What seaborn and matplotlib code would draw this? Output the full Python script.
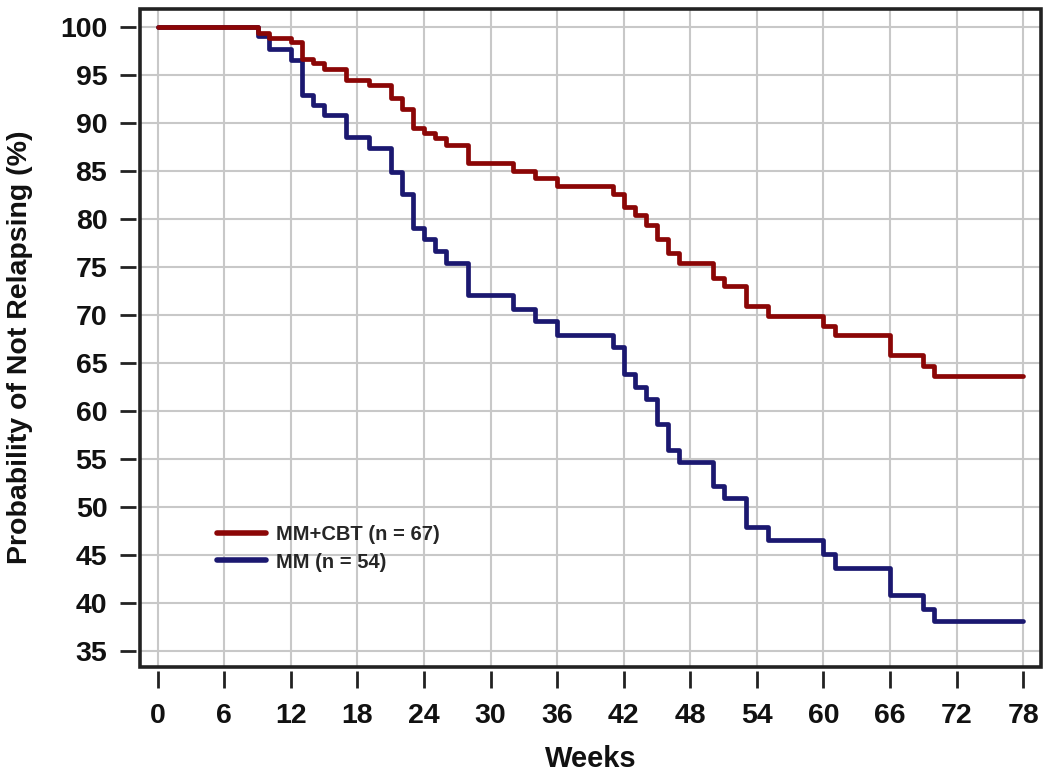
# Kaplan-Meier style relapse curves: MM+CBT vs MM

# imports
import pandas as pd
import matplotlib
matplotlib.use('Agg')
import matplotlib.pyplot as plt
from matplotlib.patches import Rectangle
from matplotlib.lines import Line2D
import seaborn as sns

# data (step times in weeks, survival in %)
weeks = [0, 9, 10, 12, 13, 14, 15, 17, 19, 21, 22, 23, 24, 25, 26, 28, 32, 34,
         36, 41, 42, 43, 44, 45, 46, 47, 50, 51, 53, 55, 60, 61, 66, 69, 70, 78]
surv_cbt = [100, 99.4, 98.8, 98.4, 96.6, 96.2, 95.6, 94.5, 93.9, 92.6, 91.4, 89.5,
            88.9, 88.4, 87.7, 85.8, 85.0, 84.2, 83.4, 82.6, 81.2, 80.4, 79.4, 77.9,
            76.4, 75.4, 73.8, 73.0, 70.9, 69.9, 68.8, 67.9, 65.8, 64.7, 63.6, 63.6]
surv_mm = [100, 99.0, 97.7, 96.5, 92.9, 91.8, 90.8, 88.5, 87.4, 84.9, 82.6, 79.0,
           77.9, 76.6, 75.4, 72.1, 70.6, 69.3, 67.9, 66.6, 63.8, 62.5, 61.2, 58.6,
           55.9, 54.7, 52.2, 50.9, 47.9, 46.5, 45.1, 43.6, 40.8, 39.3, 38.1, 38.1]
groups = ['MM+CBT (n = 67)', 'MM (n = 54)']
colors = ['#8b0606', '#1b1870']
x_ticks = list(range(0, 79, 6))
y_ticks = list(range(35, 101, 5))

df = pd.concat([
    pd.DataFrame({'Weeks': weeks, 'Surv': surv_cbt, 'Group': groups[0]}),
    pd.DataFrame({'Weeks': weeks, 'Surv': surv_mm, 'Group': groups[1]}),
])

sns.set_style('whitegrid')
plt.rcParams['font.family'] = ['Liberation Sans', 'DejaVu Sans']
plt.rcParams['font.weight'] = 'bold'
plt.rcParams['axes.labelweight'] = 'bold'

fig = plt.figure(figsize=(10.5, 7.74), dpi=100)
ax = fig.add_axes([0.1333, 0.1382, 0.8581, 0.8508])

# draw MM first so MM+CBT sits on top
sns.lineplot(data=df, x='Weeks', y='Surv', hue='Group',
             hue_order=[groups[1], groups[0]],
             palette={groups[0]: colors[0], groups[1]: colors[1]},
             drawstyle='steps-post', linewidth=3.4, legend=False, ax=ax)

ax.set_xlim(-1.6, 79.6)
ax.set_ylim(33.3, 101.9)
ax.set_xticks(x_ticks)
ax.set_yticks(y_ticks)
ax.grid(True, color='#c8c8c8', linewidth=1.5)

# box frame, ticks sit slightly off the frame
for s in ax.spines.values():
    s.set_visible(False)
ax.spines['left'].set_position(('outward', 3))
ax.spines['bottom'].set_position(('outward', 3))
ax.add_patch(Rectangle((0, 0), 1, 1, transform=ax.transAxes, fill=False,
                       linewidth=2.6, edgecolor='#222222', clip_on=False, zorder=5))

ax.tick_params(axis='both', direction='out', color='#222222', width=2,
               bottom=True, left=True, labelsize=20.5, labelcolor='#111111')
ax.tick_params(axis='x', length=12, pad=11)
ax.tick_params(axis='y', length=11.5, pad=9)

ax.set_xlabel('Weeks', fontsize=21, color='#111111')
ax.set_ylabel('Probability of Not Relapsing (%)', fontsize=20.5, color='#111111')
ax.xaxis.set_label_coords(0.5, -0.118)
ax.yaxis.set_label_coords(-0.119, 0.486)

handles = [Line2D([], [], color=c, linewidth=4) for c in colors]
ax.legend(handles, groups, loc='upper left', bbox_to_anchor=(0.086, 0.215),
          frameon=False, fontsize=14.5, handlelength=2.4, handletextpad=0.5,
          labelspacing=0.4, borderpad=0, borderaxespad=0)

fig.savefig('out.png', dpi=100)
